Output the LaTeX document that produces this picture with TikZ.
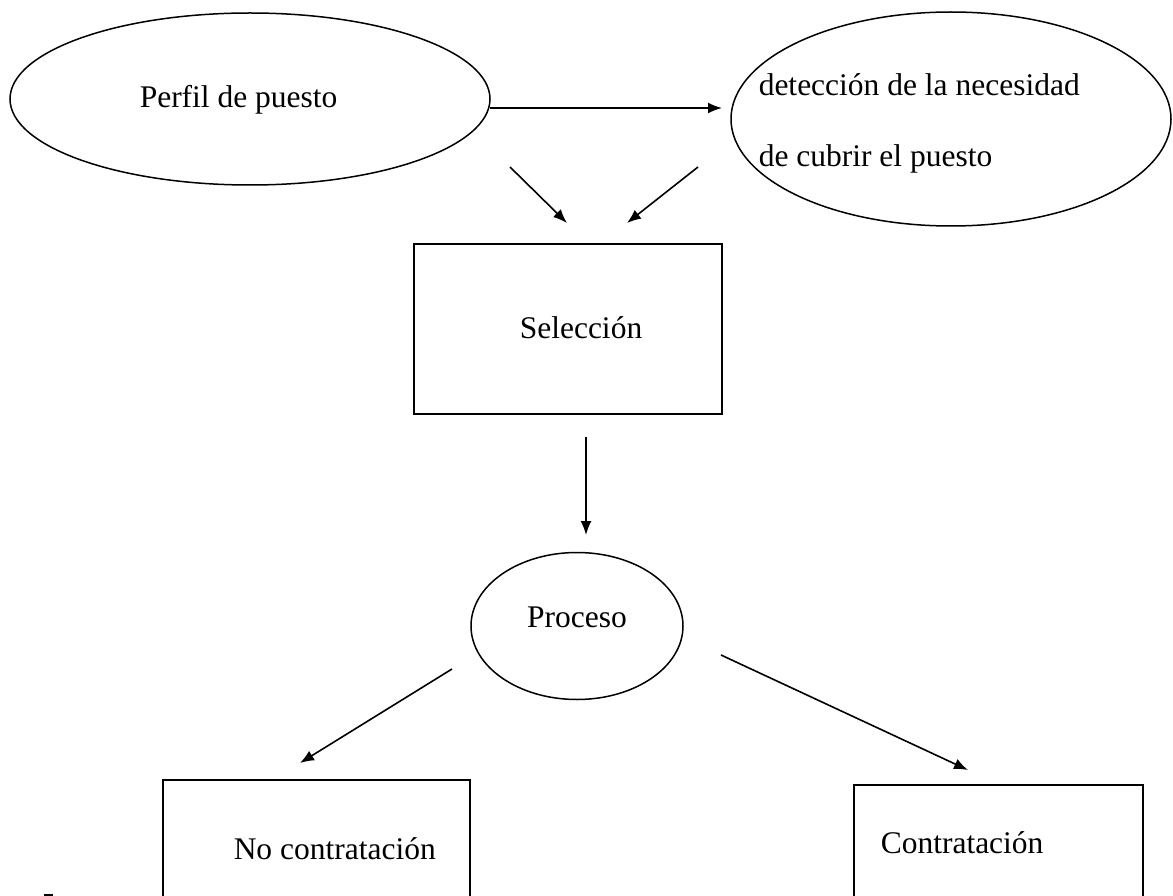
\documentclass[tikz,border=0pt]{standalone}
\usepackage{fontspec}
\setmainfont{Liberation Serif}
\usetikzlibrary{shapes.geometric,arrows.meta}
\begin{document}
\begin{tikzpicture}[x=1pt,y=-1pt, line width=1.5pt,
  oval/.style={draw, ellipse, inner sep=0pt},
  box/.style={draw, rectangle, inner sep=0pt},
  lbl/.style={font=\fontsize{31.5}{38}\selectfont, inner sep=0pt},
  arr/.style={-{Latex[length=14pt,width=11pt]}, line width=1.6pt}]
\useasboundingbox (0,0) rectangle (1173,896);
\clip (0,0) rectangle (1173,896);
% shapes
\node[oval, minimum width=480pt, minimum height=172pt] (perfil) at (250,99) {};
\node[lbl, anchor=base west] (perfilt) at (139,108) {Perfil de puesto};
\node[oval, minimum width=440pt, minimum height=214pt] (det) at (951,119) {};
\node[lbl, anchor=base west] (dett1) at (758,96) {detección de la necesidad};
\node[lbl, anchor=base west] (dett2) at (758,167) {de cubrir el puesto};
\node[box, minimum width=308pt, minimum height=170pt] (sel) at (568,329) {};
\node[lbl, anchor=base] (selt) at (581,338) {Selección};
\node[oval, minimum width=212pt, minimum height=147pt] (proc) at (577,626) {};
\node[lbl, anchor=base] (proct) at (577,627) {Proceso};
\node[box, minimum width=307pt, minimum height=140pt] (noc) at (316.5,850) {};
\node[lbl, anchor=base west] (noct) at (233,859) {No contratación};
\node[box, minimum width=289pt, minimum height=140pt] (con) at (998.5,855) {};
\node[lbl, anchor=base west] (cont) at (880,853) {Contratación};
% stray mark at the bottom edge
\coordinate (m1) at (44,895);
\coordinate (m2) at (53,895);
\draw (m1) -- (m2);
% arrow end points
\coordinate (a1) at (490,108);
\coordinate (a2) at (722,108);
\coordinate (b1) at (510,167);
\coordinate (b2) at (567,223);
\coordinate (c1) at (698,167);
\coordinate (c2) at (627,223);
\coordinate (d1) at (586,437);
\coordinate (d2) at (586,535);
\coordinate (e1) at (452,669);
\coordinate (e2) at (300,763);
\coordinate (f1) at (721,655);
\coordinate (f2) at (968,770);
\draw[arr] (a1) -- (a2);
\draw[arr] (b1) -- (b2);
\draw[arr] (c1) -- (c2);
\draw[arr] (d1) -- (d2);
\draw[arr] (e1) -- (e2);
\draw[arr] (f1) -- (f2);
\end{tikzpicture}
\end{document}
